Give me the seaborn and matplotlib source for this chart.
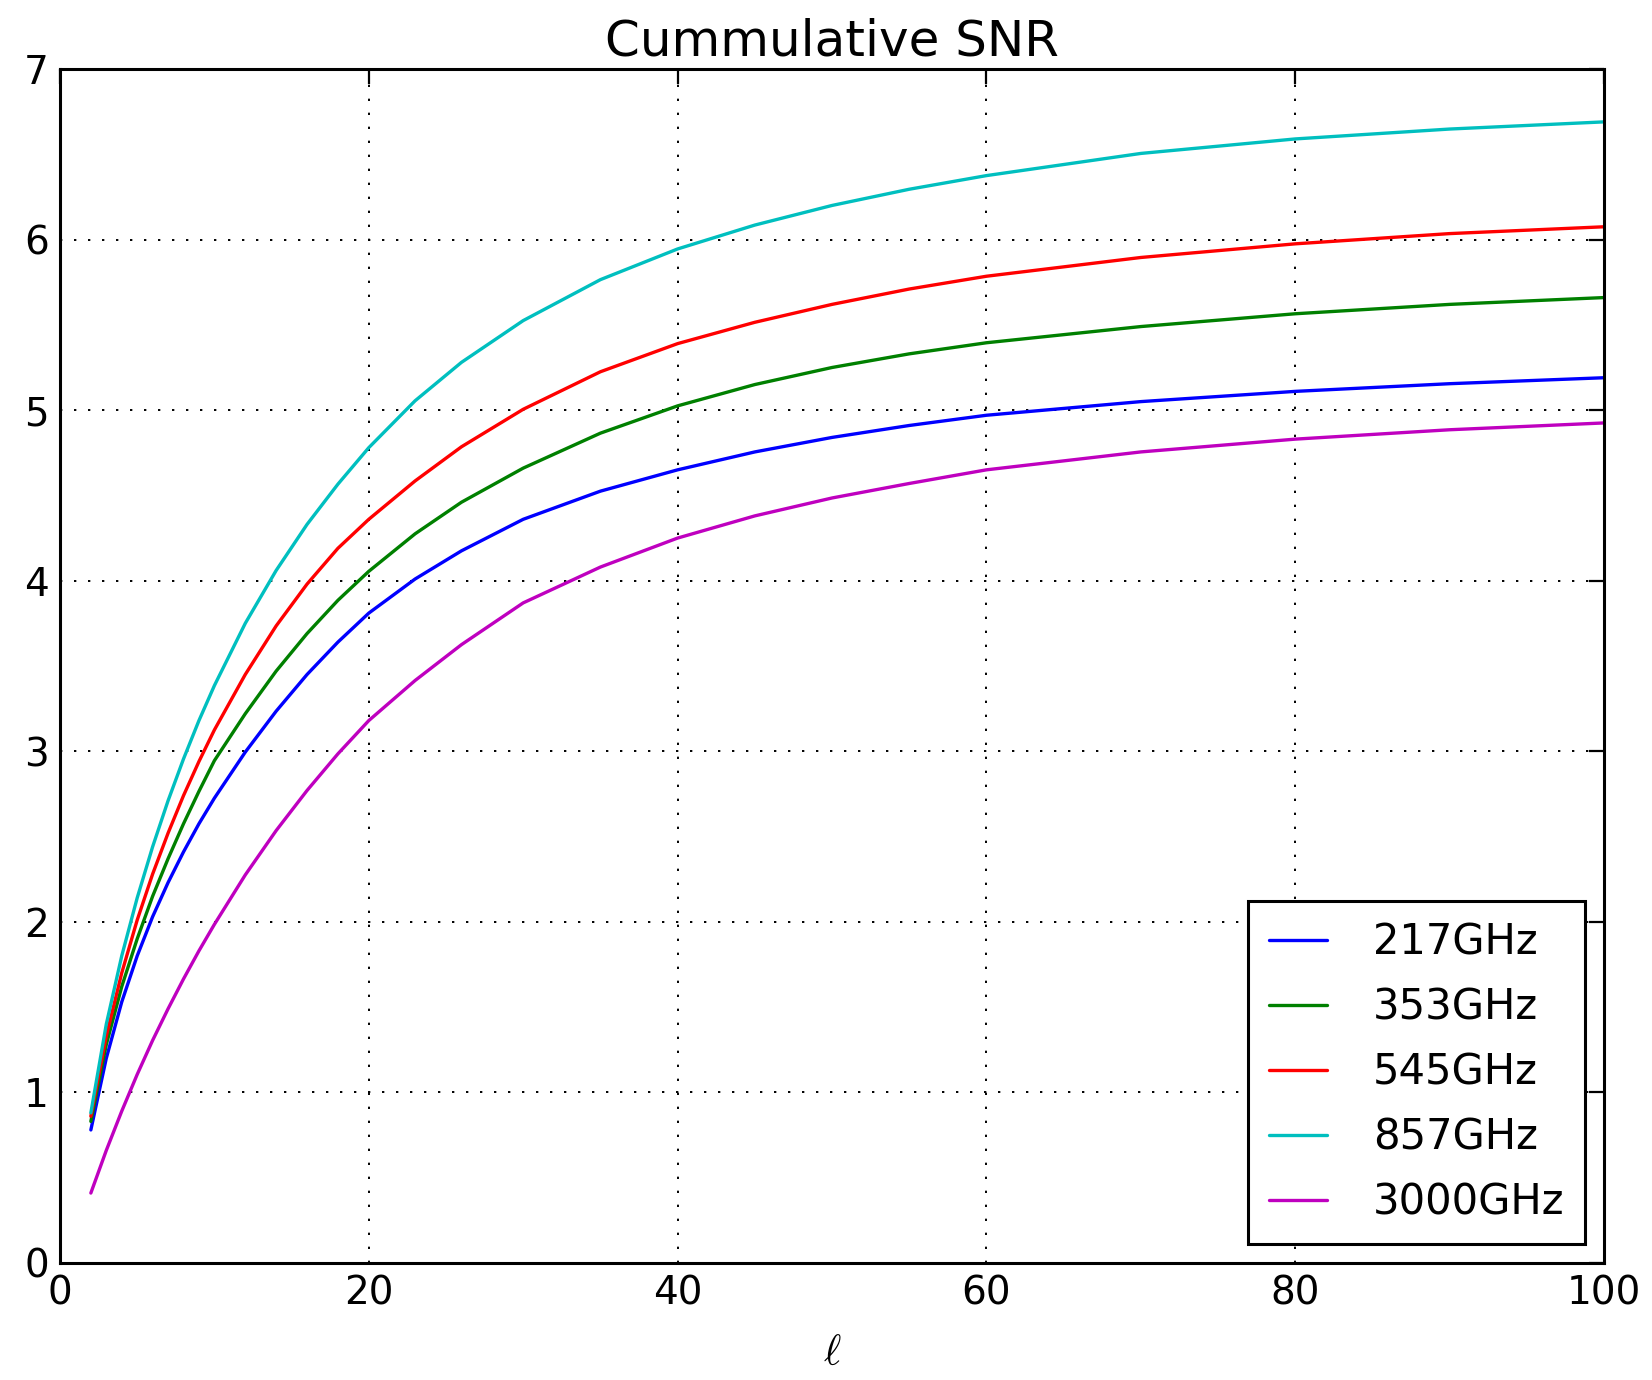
import numpy as np
import pandas as pd
import seaborn as sns
import matplotlib
matplotlib.use("Agg")
import matplotlib.pyplot as plt

ell = [2, 3, 4, 5, 6, 7, 8, 9, 10, 12, 14, 16, 18, 20, 23, 26, 30, 35, 40,
       45, 50, 55, 60, 70, 80, 90, 100]

snr_217 = [0.78, 1.20, 1.53, 1.80, 2.03, 2.23, 2.41, 2.575, 2.725, 2.995, 3.235,
           3.45, 3.64, 3.81, 4.01, 4.175, 4.36, 4.525, 4.65,
           4.755, 4.84, 4.91, 4.97, 5.05, 5.11, 5.155, 5.19]
snr_353 = [0.83, 1.28, 1.62, 1.90, 2.15, 2.37, 2.575, 2.765, 2.945, 3.22, 3.47,
           3.69, 3.885, 4.055, 4.275, 4.46, 4.66, 4.865, 5.025,
           5.15, 5.25, 5.33, 5.395, 5.49, 5.565, 5.62, 5.66]
snr_545 = [0.86, 1.33, 1.70, 2.01, 2.28, 2.52, 2.74, 2.94, 3.125, 3.45, 3.735,
           3.98, 4.19, 4.36, 4.585, 4.785, 5.005, 5.225, 5.39,
           5.515, 5.62, 5.71, 5.785, 5.895, 5.975, 6.035, 6.075]
snr_857 = [0.88, 1.40, 1.80, 2.14, 2.44, 2.71, 2.955, 3.18, 3.385, 3.75, 4.06,
           4.33, 4.566, 4.78, 5.055, 5.28, 5.525, 5.765, 5.945,
           6.085, 6.20, 6.295, 6.375, 6.505, 6.59, 6.648, 6.69]
snr_3000 = [0.41, 0.66, 0.89, 1.105, 1.305, 1.49, 1.665, 1.83, 1.985, 2.275, 2.535,
            2.77, 2.985, 3.18, 3.415, 3.625, 3.87, 4.08, 4.25,
            4.38, 4.485, 4.57, 4.65, 4.755, 4.83, 4.885, 4.925]

freqs = ["217GHz", "353GHz", "545GHz", "857GHz", "3000GHz"]
colors = ["#0000ff", "#008000", "#ff0000", "#00bfbf", "#bf00bf"]

series = [snr_217, snr_353, snr_545, snr_857, snr_3000]
df = pd.concat([pd.DataFrame({"ell": ell, "snr": s, "freq": f})
                for s, f in zip(series, freqs)], ignore_index=True)

sns.set_style("white")
plt.rcParams["font.family"] = ["DejaVu Sans"]
plt.rcParams["mathtext.fontset"] = "cm"
for key in ["text.color", "axes.labelcolor", "xtick.color", "ytick.color"]:
    plt.rcParams[key] = "k"

fig = plt.figure(figsize=(16.52, 13.80), dpi=100)
ax = fig.add_axes([0.0363, 0.0848, 0.9347, 0.8652])

sns.lineplot(data=df, x="ell", y="snr", hue="freq", palette=colors,
             linewidth=2.4, ax=ax)

ax.set_xlim(0, 100)
ax.set_ylim(0, 7)
ax.set_xticks([0, 20, 40, 60, 80, 100])
ax.set_yticks(range(0, 8))
ax.grid(True, color="k", linestyle=(0, (1.2, 6)), linewidth=1.4)
ax.tick_params(direction="in", length=11, width=1.6, labelsize=28,
               top=True, right=True, pad=8)
for sp in ax.spines.values():
    sp.set_linewidth(2.2)
    sp.set_color("k")

ax.set_title("Cummulative SNR", fontsize=36, pad=10)
ax.set_xlabel(r"$\ell$", fontsize=30, labelpad=14)
ax.set_ylabel("")

leg = ax.legend(loc="lower right", fontsize=30, frameon=True, fancybox=False,
                handlelength=1.4, handletextpad=1.1, labelspacing=0.55,
                borderaxespad=0.45, borderpad=0.5)
leg.get_frame().set_edgecolor("k")
leg.get_frame().set_linewidth(2.2)
leg.get_frame().set_alpha(1)

fig.savefig("out.png", dpi=100)
